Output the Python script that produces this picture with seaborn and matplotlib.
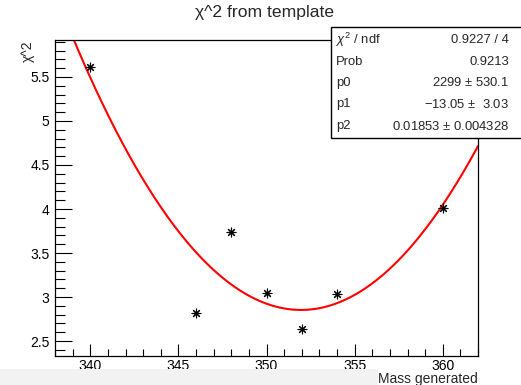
import numpy as np
import pandas as pd
import matplotlib
matplotlib.use("Agg")
import matplotlib.pyplot as plt
from matplotlib.patches import Rectangle
from matplotlib.ticker import MultipleLocator, FuncFormatter
import seaborn as sns

# Template mass points and their chi^2 values
mass = [340, 346, 348, 350, 352, 354, 360]
chi2 = [5.61, 2.82, 3.74, 3.05, 2.64, 3.03, 4.01]

# Fit summary shown in the statistics box
stat_names = ["$\\chi^2$ / ndf", "Prob", "p0", "p1", "p2"]
stat_values = ["0.9227 / 4", "0.9213", "2299 $\\pm$ 530.1",
               "$-$13.05 $\\pm$  3.03", "0.01853 $\\pm$ 0.004328"]

title = "\u03c7^2 from template"
xlabel = "Mass generated"
ylabel = "\u03c7^2"

sns.set_theme(style="white")
plt.rcParams["font.family"] = ["Liberation Sans", "DejaVu Sans"]
plt.rcParams["mathtext.fontset"] = "custom"
plt.rcParams["mathtext.rm"] = "Liberation Sans"
plt.rcParams["mathtext.it"] = "Liberation Sans:italic"

W, H = 521, 385
fig = plt.figure(figsize=(W / 100, H / 100), dpi=100)
fig.patch.set_facecolor("white")

# Light strip along the bottom edge of the canvas
fig.patches.append(Rectangle((0, 0), 378 / W, 16 / H, transform=fig.transFigure,
                             facecolor="#f2f2f2", edgecolor="none", zorder=0))

ax = fig.add_axes([55 / W, 1 - 356 / H, (478 - 55) / W, (356 - 40) / H])
ax.set_facecolor("white")

df = pd.DataFrame({"mass": mass, "chi2": chi2})

# Second-order polynomial fit through the points
coef = np.polyfit(df["mass"], df["chi2"], 2)
xs = np.linspace(338, 362, 400)
fit = pd.DataFrame({"mass": xs, "chi2": np.polyval(coef, xs)})

sns.lineplot(data=fit, x="mass", y="chi2", ax=ax, color="#ff0000", lw=1.5, zorder=2)
sns.scatterplot(data=df, x="mass", y="chi2", ax=ax, marker=(8, 2, 0), s=40,
                color="black", edgecolor="black", linewidth=0.8, zorder=3)

ax.set_xlim(338, 362)
ax.set_ylim(2.33, 5.92)
ax.xaxis.set_major_locator(MultipleLocator(5))
ax.xaxis.set_minor_locator(MultipleLocator(1))
ax.yaxis.set_major_locator(MultipleLocator(0.5))
ax.yaxis.set_minor_locator(MultipleLocator(0.1))
ax.yaxis.set_major_formatter(FuncFormatter(lambda v, p: f"{v:g}"))
ax.tick_params(axis="both", which="both", direction="in", colors="black",
               labelsize=10, left=True, bottom=True, top=False, right=False, width=0.8)
ax.tick_params(axis="x", which="major", length=9, pad=2)
ax.tick_params(axis="x", which="minor", length=5)
ax.tick_params(axis="y", which="major", length=12, pad=4)
ax.tick_params(axis="y", which="minor", length=7)
for s in ax.spines.values():
    s.set_color("black")
    s.set_linewidth(0.9)
ax.set_xlabel("")
ax.set_ylabel("")

fig.text(265 / W, 1 - 12 / H, title, ha="center", va="center", fontsize=12.6)
fig.text(478 / W, 1 - 378.5 / H, xlabel, ha="right", va="center", fontsize=10)
fig.text(28 / W, 1 - 40 / H, ylabel, ha="center", va="top", rotation=90, fontsize=10)

# Statistics box
fig.patches.append(Rectangle((331 / W, 1 - 138 / H), (530 - 331) / W, (138 - 27) / H,
                             transform=fig.transFigure, facecolor="white",
                             edgecolor="black", linewidth=1.0, zorder=5))
row_y = [40, 62, 83, 104, 126]
for name, val, yy in zip(stat_names, stat_values, row_y):
    fig.text(336 / W, 1 - yy / H, name, ha="left", va="center", fontsize=9.4, zorder=6)
    fig.text(509 / W, 1 - yy / H, val, ha="right", va="center", fontsize=9.4, zorder=6)

fig.savefig("out.png", dpi=100)
